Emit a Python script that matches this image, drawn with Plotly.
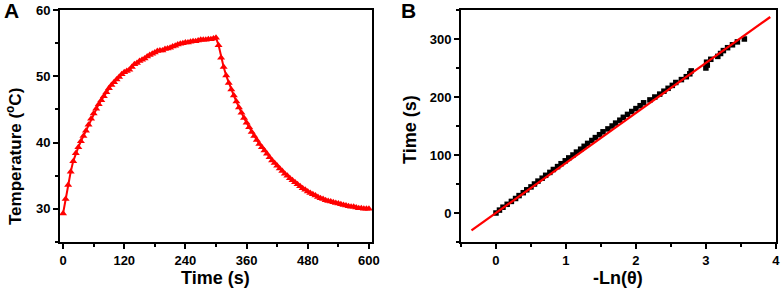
import plotly.graph_objects as go

# ---- Panel A data: temperature vs time (every 5 s) ----
time_a = list(range(0, 605, 5))
temp_heating = [29.3, 31.5, 33.6, 35.6, 37.2, 38.4, 39.3, 40.2, 41.0, 41.8,
                42.7, 43.6, 44.4, 45.1, 45.8, 46.4, 47.0, 47.6, 48.2, 48.7,
                49.1, 49.5, 49.9, 50.3, 50.6, 50.8, 51.0, 51.4, 51.8, 52.0,
                52.3, 52.5, 52.7, 53.0, 53.2, 53.4, 53.6, 53.8, 53.9, 53.9,
                54.1, 54.2, 54.3, 54.5, 54.6, 54.8, 54.9, 55.0, 55.1, 55.1,
                55.2, 55.3, 55.3, 55.4, 55.5, 55.5, 55.5, 55.6, 55.6, 55.7,
                55.8]
temp_cooling = [54.7, 52.8, 51.4, 50.1, 49.0, 48.0, 47.1, 46.2, 45.3, 44.5,
                43.7, 43.0, 42.3, 41.6, 41.0, 40.4, 39.8, 39.3, 38.8, 38.3,
                37.8, 37.3, 36.9, 36.5, 36.1, 35.7, 35.3, 35.0, 34.6, 34.3,
                34.0, 33.7, 33.4, 33.1, 32.9, 32.6, 32.4, 32.2, 32.0, 31.8,
                31.6, 31.5, 31.3, 31.2, 31.1, 31.0, 30.9, 30.8, 30.7, 30.6,
                30.5, 30.4, 30.3, 30.3, 30.2, 30.1, 30.1, 30.0, 30.0, 30.0]
temp_a = temp_heating + temp_cooling

# ---- Panel B data: cooling time vs -ln(theta) ----
neg_ln_theta = [0.00, 0.05, 0.10, 0.16, 0.22, 0.28, 0.33, 0.39, 0.44, 0.50,
                0.55, 0.60, 0.66, 0.71, 0.77, 0.82, 0.88, 0.93, 0.99, 1.04,
                1.10, 1.15, 1.21, 1.26, 1.31, 1.37, 1.42, 1.48, 1.53, 1.60,
                1.66, 1.71, 1.77, 1.82, 1.88, 1.94, 2.00, 2.06, 2.11, 2.20,
                2.27, 2.34, 2.40, 2.46, 2.52, 2.57, 2.65, 2.72, 2.77, 2.79,
                3.00, 3.02, 3.01, 3.07, 3.17, 3.21, 3.25, 3.31, 3.38, 3.45,
                3.55]
time_b = list(range(0, 305, 5))
fit_x = [-0.35, 3.92]
fit_y = [-30, 338]

W, H = 782, 295
def px_x(a, b):
    return [a / W, b / W]
def px_y(top, bottom):
    return [1 - bottom / H, 1 - top / H]

RED = "#FF0000"
FONT = "Liberation Sans, Arial, sans-serif"

fig = go.Figure()
fig.add_trace(go.Scatter(x=time_a, y=temp_a, mode="lines+markers",
                         line=dict(color=RED, width=2),
                         marker=dict(symbol="triangle-up", size=7, color=RED),
                         xaxis="x", yaxis="y", showlegend=False))
fig.add_trace(go.Scatter(x=neg_ln_theta, y=time_b, mode="markers",
                         marker=dict(symbol="square", size=5.5, color="black"),
                         xaxis="x2", yaxis="y2", showlegend=False))
fig.add_trace(go.Scatter(x=fit_x, y=fit_y, mode="lines",
                         line=dict(color=RED, width=2.3),
                         xaxis="x2", yaxis="y2", showlegend=False))

tickfont = dict(family=FONT, size=13, color="black", weight="bold")
common = dict(showline=True, linecolor="black", linewidth=2, mirror=True,
              ticks="outside", ticklen=5, tickwidth=2, tickcolor="black",
              showgrid=False, zeroline=False, tickfont=tickfont, automargin=False)

minor_style = dict(ticks="outside", ticklen=3, tickcolor="black", tickwidth=1.5)

fig.update_layout(
    width=W, height=H,
    margin=dict(l=0, r=0, t=0, b=0),
    paper_bgcolor="white", plot_bgcolor="white",
    xaxis=dict(domain=px_x(60, 372), range=[-6, 606], tick0=0, dtick=120,
               minor=dict(dtick=60, tick0=0, **minor_style),
               anchor="y", **common),
    yaxis=dict(domain=px_y(10, 242), range=[25, 60], tick0=0, dtick=10,
               minor=dict(dtick=5, tick0=0, **minor_style),
               anchor="x", **common),
    xaxis2=dict(domain=px_x(461, 776), range=[-0.5, 4.002], tick0=0, dtick=1,
                minor=dict(dtick=0.5, tick0=0, **minor_style),
                anchor="y2", **common),
    yaxis2=dict(domain=px_y(10, 242), range=[-50, 350], tick0=0, dtick=100,
                minor=dict(dtick=50, tick0=0, **minor_style),
                anchor="x2", **common),
)

def ann(text, x, y, size, angle=0):
    fig.add_annotation(text=text, x=x / W, y=1 - y / H, xref="paper", yref="paper",
                       showarrow=False, textangle=angle, xanchor="center", yanchor="middle",
                       font=dict(family=FONT, size=size, color="black", weight="bold"))

ann("Time (s)", 216, 278, 18)
ann("Temperature (<sup>o</sup>C)", 14, 157, 17, -90)
ann("-Ln(θ)", 618, 278, 18)
ann("Time (s)", 410, 130, 18, -90)
ann("A", 11, 10, 21)
ann("B", 408, 10, 21)

fig.write_html("out.html",
               config={"displayModeBar": False},
               post_script="document.body.style.margin='0';document.body.style.overflow='hidden';")
